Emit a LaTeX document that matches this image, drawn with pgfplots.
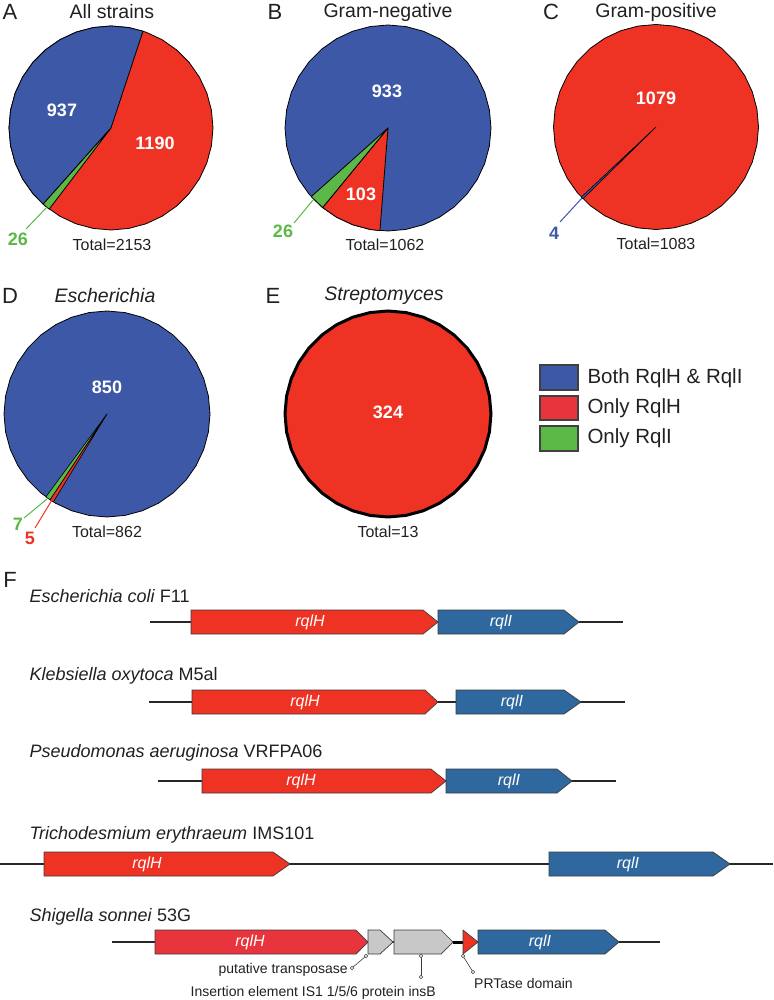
\documentclass[border=0pt]{standalone}
\usepackage{pgfplots}
\pgfplotsset{compat=1.18}
\usepackage{pgfplotstable}
\usepgfplotslibrary{polar}
\usepackage{fontspec}
\setmainfont{Liberation Sans}
\definecolor{pblue}{RGB}{61,88,167}
\definecolor{pred}{RGB}{238,50,36}
\definecolor{pgreen}{RGB}{92,184,71}
\definecolor{gblue}{RGB}{47,104,158}
\definecolor{sred}{RGB}{232,52,60}
\definecolor{ggrey}{RGB}{200,200,200}
\definecolor{txt}{RGB}{35,31,32}
\definecolor{edge}{RGB}{60,60,60}
\newcommand{\fT}{\fontsize{19.5}{22}\selectfont}
\newcommand{\fP}{\fontsize{22}{25}\selectfont}
\newcommand{\fN}{\fontsize{18}{20}\selectfont\bfseries}
\newcommand{\fTot}{\fontsize{16}{18}\selectfont}
\newcommand{\fL}{\fontsize{20.5}{23}\selectfont}
\newcommand{\fS}{\fontsize{18}{20}\selectfont}
\newcommand{\fG}{\fontsize{16}{18}\selectfont\itshape}
\newcommand{\fA}{\fontsize{14}{16}\selectfont}
\pgfplotstableread{
a r
0 1
10 1
20 1
30 1
40 1
50 1
60 1
70 1
80 1
90 1
100 1
110 1
120 1
130 1
140 1
150 1
160 1
170 1
180 1
190 1
200 1
210 1
220 1
230 1
240 1
250 1
260 1
270 1
280 1
290 1
300 1
310 1
320 1
330 1
340 1
350 1
360 1
}\fullcircle
\pgfplotsset{
  pie/.style={width=#1, height=#1, scale only axis, hide axis, ymin=0, ymax=1,
    xtick=\empty, ytick=\empty, anchor=center, clip=false},
  wedge/.style={fill=#1, draw=black, line width=0.8pt, line join=round},
  gene/.style={fill=#1, draw=edge, line width=0.7pt, line join=miter},
  backbone/.style={draw=black!85, line width=2pt},
  legbox/.style={fill=#1, draw=black!75, line width=1.5pt},
}
\begin{document}
\begin{tikzpicture}
\useasboundingbox (0,0) rectangle (773pt,1000pt);
% ---- Pie A: All strains (937 both, 1190 only RqlH, 26 only RqlI)
\begin{polaraxis}[pie=204pt, at={(111pt,872pt)}]
\addplot[wedge=pred] table[x=a,y=r]{\fullcircle} -- cycle;
\addplot[wedge=pblue] coordinates {(0,0) (71.7,1) (80,1) (90,1) (100,1) (110,1) (120,1) (130,1) (140,1) (150,1) (160,1) (170,1) (180,1) (190,1) (200,1) (210,1) (220,1) (228.3,1)} -- cycle;
\addplot[wedge=pgreen] coordinates {(0,0) (228.3,1) (232.7,1)} -- cycle;
\end{polaraxis}
% ---- Pie B: Gram-negative (933, 103, 26)
\begin{polaraxis}[pie=206pt, at={(388pt,872pt)}]
\addplot[wedge=pblue] table[x=a,y=r]{\fullcircle} -- cycle;
\addplot[wedge=pred] coordinates {(0,0) (230.6,1) (240,1) (250,1) (260,1) (265.5,1)} -- cycle;
\addplot[wedge=pgreen] coordinates {(0,0) (221.8,1) (230.6,1)} -- cycle;
\end{polaraxis}
% ---- Pie C: Gram-positive (4 both, 1079 only RqlH)
\begin{polaraxis}[pie=205pt, at={(656pt,873pt)}]
\addplot[wedge=pred] table[x=a,y=r]{\fullcircle} -- cycle;
\addplot[wedge=pblue, line width=0.6pt] coordinates {(0,0) (223.2,1) (224.5,1)} -- cycle;
\end{polaraxis}
% ---- Pie D: Escherichia (850, 5, 7)
\begin{polaraxis}[pie=206pt, at={(107pt,586pt)}]
\addplot[wedge=pblue] table[x=a,y=r]{\fullcircle} -- cycle;
\addplot[wedge=pgreen, line width=0.6pt] coordinates {(0,0) (233.6,1) (236.5,1)} -- cycle;
\addplot[wedge=pred, line width=0.6pt] coordinates {(0,0) (236.5,1) (238.6,1)} -- cycle;
\end{polaraxis}
% ---- Pie E: Streptomyces (324 only RqlH)
\begin{polaraxis}[pie=206pt, at={(388pt,586pt)}]
\addplot[wedge=pred, line width=3pt] table[x=a,y=r]{\fullcircle} -- cycle;
\end{polaraxis}
% ---- Everything else in pixel coordinates
\begin{axis}[at={(0,0)}, anchor=south west, width=773pt, height=1000pt, scale only axis,
  xmin=0, xmax=773, ymin=0, ymax=1000, y dir=reverse, hide axis, clip=false]
% panel letters and titles
\node[txt, font=\fP] at (10,12) {A};
\node[txt, font=\fT] at (112,12) {All strains};
\node[txt, font=\fP] at (275,12) {B};
\node[txt, font=\fT] at (388,12) {Gram-negative};
\node[txt, font=\fP] at (551,12) {C};
\node[txt, font=\fT] at (656,12) {Gram-positive};
\node[txt, font=\fP] at (10,296) {D};
\node[txt, font=\fT\itshape] at (105,296) {Escherichia};
\node[txt, font=\fP] at (273,296) {E};
\node[txt, font=\fT\itshape] at (384,296) {Streptomyces};
% pie numbers
\node[white, font=\fN] at (62,110) {937};
\node[white, font=\fN] at (155,143) {1190};
\node[white, font=\fN] at (387,91) {933};
\node[white, font=\fN] at (361,194) {103};
\node[white, font=\fN] at (656,98) {1079};
\node[white, font=\fN] at (107,387) {850};
\node[white, font=\fN] at (388,412) {324};
% leaders and small labels
\addplot[pgreen, line width=1pt] coordinates {(47,207) (26,229)};
\node[pgreen, font=\fN] at (18,239) {26};
\addplot[pgreen, line width=1pt] coordinates {(313,200) (294,223)};
\node[pgreen, font=\fN] at (283,231) {26};
\addplot[pblue, line width=1pt] coordinates {(582,198) (560,222)};
\node[pblue, font=\fN] at (554,233) {4};
\addplot[pgreen, line width=1pt] coordinates {(47,499) (24,518)};
\node[pgreen, font=\fN] at (18,524) {7};
\addplot[pred, line width=1pt] coordinates {(52,500) (35,528)};
\node[pred, font=\fN] at (30,538) {5};
% totals
\node[txt, font=\fTot] at (112,245) {Total=2153};
\node[txt, font=\fTot] at (385,245) {Total=1062};
\node[txt, font=\fTot] at (656,244) {Total=1083};
\node[txt, font=\fTot] at (107,232+300) {Total=862};
\node[txt, font=\fTot] at (388,532) {Total=13};
% legend
\addplot[legbox=pblue] coordinates {(540,365) (578,365) (578,390) (540,390)} -- cycle;
\addplot[legbox=sred] coordinates {(540,396) (578,396) (578,420) (540,420)} -- cycle;
\addplot[legbox=pgreen] coordinates {(540,426) (578,426) (578,451) (540,451)} -- cycle;
\node[txt, font=\fL, anchor=west] at (584,378) {Both RqlH \& RqlI};
\node[txt, font=\fL, anchor=west] at (584,408) {Only RqlH};
\node[txt, font=\fL, anchor=west] at (584,438) {Only RqlI};
% panel F
\node[txt, font=\fP] at (10,580) {F};
% row 1: Escherichia coli F11
\node[txt, font=\fS, anchor=west] at (26,596) {\textit{Escherichia coli} F11};
\addplot[backbone] coordinates {(150,622) (623,622)};
\addplot[gene=pred] coordinates {(191,610) (423,610) (438,622) (423,634) (191,634)} -- cycle;
\addplot[gene=gblue] coordinates {(438,610) (564,610) (579,622) (564,634) (438,634)} -- cycle;
\node[white, font=\fG] at (310,622) {rqlH};
\node[white, font=\fG] at (501,622) {rqlI};
% row 2: Klebsiella oxytoca M5al
\node[txt, font=\fS, anchor=west] at (26,676) {\textit{Klebsiella oxytoca} M5al};
\addplot[backbone] coordinates {(149,702) (625,702)};
\addplot[gene=pred] coordinates {(192,690) (425,690) (438,702) (425,714) (192,714)} -- cycle;
\addplot[gene=gblue] coordinates {(456,690) (564,690) (581,702) (564,714) (456,714)} -- cycle;
\node[white, font=\fG] at (305,702) {rqlH};
\node[white, font=\fG] at (512,702) {rqlI};
% row 3: Pseudomonas aeruginosa VRFPA06
\node[txt, font=\fS, anchor=west] at (26,753) {\textit{Pseudomonas aeruginosa} VRFPA06};
\addplot[backbone] coordinates {(158,781) (616,781)};
\addplot[gene=pred] coordinates {(202,769) (431,769) (446,781) (431,793) (202,793)} -- cycle;
\addplot[gene=gblue] coordinates {(446,769) (557,769) (572,781) (557,793) (446,793)} -- cycle;
\node[white, font=\fG] at (301,781) {rqlH};
\node[white, font=\fG] at (509,781) {rqlI};
% row 4: Trichodesmium erythraeum IMS101
\node[txt, font=\fS, anchor=west] at (26,835) {\textit{Trichodesmium erythraeum} IMS101};
\addplot[backbone] coordinates {(0,864) (773,864)};
\addplot[gene=pred] coordinates {(44,852) (273,852) (290,864) (273,876) (44,876)} -- cycle;
\addplot[gene=gblue] coordinates {(549,852) (713,852) (730,864) (713,876) (549,876)} -- cycle;
\node[white, font=\fG] at (147,864) {rqlH};
\node[white, font=\fG] at (628,864) {rqlI};
% row 5: Shigella sonnei 53G
\node[txt, font=\fS, anchor=west] at (26,917) {\textit{Shigella sonnei} 53G};
\addplot[backbone] coordinates {(112,942) (660,942)};
\addplot[draw=black, line width=3pt] coordinates {(453,942) (463,942)};
\addplot[gene=sred] coordinates {(155,930) (356,930) (368,942) (356,954) (155,954)} -- cycle;
\addplot[gene=ggrey] coordinates {(368,930) (380,930) (393,942) (380,954) (368,954)} -- cycle;
\addplot[gene=ggrey] coordinates {(394,930) (441,930) (453,942) (441,954) (394,954)} -- cycle;
\addplot[gene=pred] coordinates {(463,930) (478,942) (463,954)} -- cycle;
\addplot[gene=gblue] coordinates {(478,930) (605,930) (619,942) (605,954) (478,954)} -- cycle;
\node[white, font=\fG] at (250,942) {rqlH};
\node[white, font=\fG] at (540,942) {rqlI};
% annotations
\addplot[edge, line width=0.6pt, mark=*, mark size=1.8pt, mark options={fill=white, draw=edge}] coordinates {(366,956) (352,968)};
\addplot[edge, line width=0.6pt, mark=*, mark size=1.8pt, mark options={fill=white, draw=edge}] coordinates {(421,956) (421,977)};
\addplot[edge, line width=0.6pt, mark=*, mark size=1.8pt, mark options={fill=white, draw=edge}] coordinates {(463,956) (473,972)};
\node[txt, font=\fA, anchor=east, inner sep=1pt] at (349,970) {putative transposase};
\node[txt, font=\fA, anchor=east, inner sep=1pt] at (437,993) {Insertion element IS1 1/5/6 protein insB};
\node[txt, font=\fA, anchor=west, inner sep=1pt] at (473,983) {PRTase domain};
\end{axis}
\end{tikzpicture}
\end{document}
